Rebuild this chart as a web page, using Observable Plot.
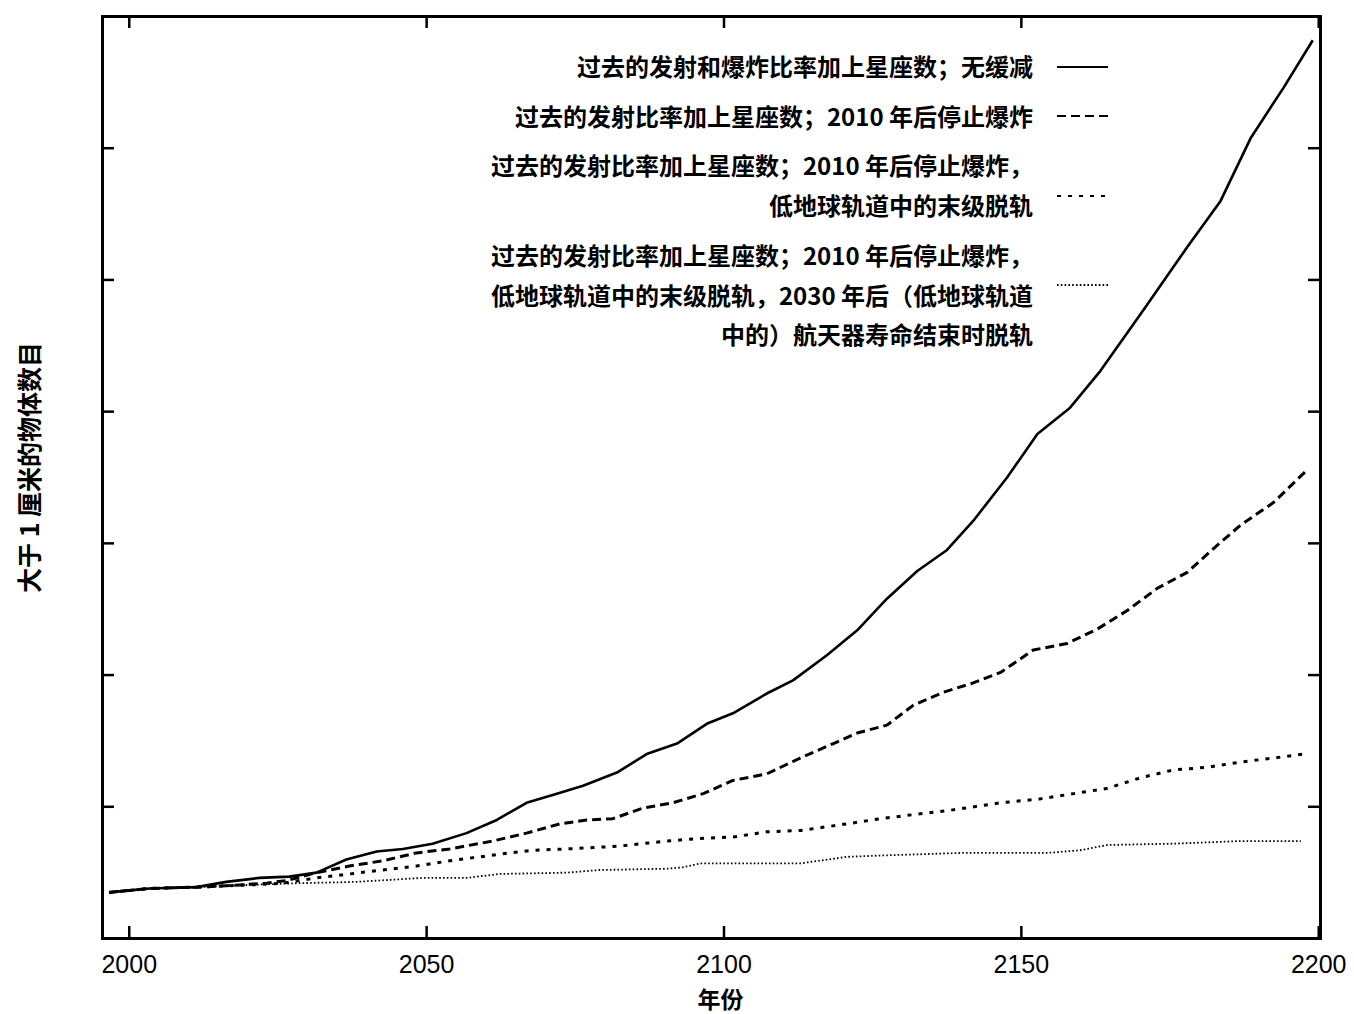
<!DOCTYPE html>
<html>
<head>
<meta charset="utf-8">
<script src="https://cdn.jsdelivr.net/npm/d3@7"></script>
<script src="https://cdn.jsdelivr.net/npm/@observablehq/plot@0.6"></script>
<style>
  body { margin: 0; background: #fff; }
  #wrap { position: relative; width: 1354px; height: 1014px; overflow: hidden; }
  .lg { position: absolute; white-space: pre; text-align: right; color: #000;
        font-family: "Noto Sans CJK SC", sans-serif; font-weight: 700; font-size: 24px; }
  .ls { position: absolute; }
</style>
</head>
<body>
<div id="wrap"></div>
<script>
// ---------------- data ----------------
const seriesNames = [
  "过去的发射和爆炸比率加上星座数；无缓减",
  "过去的发射比率加上星座数；2010 年后停止爆炸",
  "过去的发射比率加上星座数；2010 年后停止爆炸，低地球轨道中的末级脱轨",
  "过去的发射比率加上星座数；2010 年后停止爆炸，低地球轨道中的末级脱轨，2030 年后（低地球轨道中的）航天器寿命结束时脱轨"
];
const legendLines = [
  ["过去的发射和爆炸比率加上星座数；无缓减"],
  ["过去的发射比率加上星座数；2010 年后停止爆炸"],
  ["过去的发射比率加上星座数；2010 年后停止爆炸，", "低地球轨道中的末级脱轨"],
  ["过去的发射比率加上星座数；2010 年后停止爆炸，", "低地球轨道中的末级脱轨，2030 年后（低地球轨道", "中的）航天器寿命结束时脱轨"]
];

const years1 = [1996.6, 2003.4, 2011.3, 2016.3, 2021.9, 2026.9, 2031.5, 2036.5, 2041.6, 2046, 2051, 2056.7, 2061.8, 2066.8, 2071.2, 2076.3, 2082, 2087, 2092.1, 2097.1, 2101.5, 2107.2, 2111.6, 2117.3, 2122.4, 2127.4, 2132.5, 2137.5, 2141.9, 2147.6, 2152.7, 2158.2, 2163.3, 2170.5, 2177.9, 2183.5, 2188.6, 2194.1, 2199];
const values1 = [0.35, 0.38, 0.39, 0.43, 0.46, 0.47, 0.50, 0.60, 0.66, 0.68, 0.72, 0.80, 0.90, 1.03, 1.09, 1.16, 1.26, 1.40, 1.48, 1.63, 1.71, 1.86, 1.96, 2.15, 2.34, 2.58, 2.79, 2.95, 3.17, 3.50, 3.83, 4.03, 4.31, 4.77, 5.25, 5.60, 6.08, 6.46, 6.82];

const years2 = [1996.6, 2003.4, 2011.3, 2016.3, 2023.1, 2026.4, 2031.5, 2037.0, 2042.6, 2048.3, 2053.9, 2061.1, 2066.8, 2072.4, 2076.9, 2081.3, 2086.4, 2091.4, 2096.5, 2101.5, 2107.2, 2112.8, 2118.4, 2122.4, 2127.4, 2131.8, 2136.9, 2141.9, 2146.5, 2152.0, 2157.7, 2162.8, 2167.8, 2172.9, 2177.9, 2182.3, 2186.9, 2192.4, 2198.1];
const values2 = [0.35, 0.38, 0.39, 0.40, 0.42, 0.44, 0.50, 0.55, 0.59, 0.65, 0.68, 0.74, 0.80, 0.87, 0.90, 0.91, 0.99, 1.03, 1.10, 1.20, 1.25, 1.37, 1.48, 1.56, 1.62, 1.77, 1.87, 1.94, 2.02, 2.19, 2.24, 2.35, 2.49, 2.66, 2.78, 2.96, 3.14, 3.31, 3.56];

const years3 = [1996.6, 2003.4, 2011.3, 2016.3, 2021.9, 2025.8, 2031.5, 2037.0, 2042.6, 2048.3, 2053.9, 2062.3, 2067.8, 2073.6, 2082.0, 2090.4, 2096.0, 2101.5, 2107.2, 2112.8, 2120.7, 2126.3, 2131.8, 2137.5, 2146.5, 2153.2, 2158.8, 2164.5, 2170.0, 2175.6, 2181.3, 2186.9, 2192.4, 2197.3];
const values3 = [0.35, 0.38, 0.39, 0.40, 0.41, 0.42, 0.46, 0.49, 0.52, 0.55, 0.59, 0.64, 0.67, 0.68, 0.70, 0.74, 0.76, 0.77, 0.81, 0.82, 0.87, 0.91, 0.94, 0.97, 1.03, 1.06, 1.10, 1.14, 1.22, 1.28, 1.30, 1.34, 1.37, 1.40];

const years4 = [1996.6, 2003.4, 2011.3, 2016.3, 2021.9, 2028.6, 2038.2, 2049.3, 2056.7, 2062.3, 2073.6, 2079.1, 2090.4, 2093.1, 2096.0, 2101.5, 2112.8, 2120.7, 2126.3, 2140.2, 2154.4, 2159.9, 2164.5, 2175.6, 2186.9, 2197.0];
const values4 = [0.35, 0.38, 0.39, 0.40, 0.41, 0.42, 0.43, 0.46, 0.46, 0.49, 0.50, 0.52, 0.53, 0.54, 0.57, 0.57, 0.57, 0.62, 0.63, 0.65, 0.65, 0.67, 0.71, 0.72, 0.74, 0.74];

const xTicks = [2000, 2050, 2100, 2150, 2200];
const yTicks = [1, 2, 3, 4, 5, 6];
const xTitle = "年份";
const yTitle = "大于 1 厘米的物体数目";

// ---------------- layout / styles ----------------
const W = 1354, H = 1014;
const mL = 102, mR = 34, mT = 16, mB = 76;
const xDomain = [1995.5, 2200.3];
const yDomain = [0, 7];
const tickPx = 12;
const xPerPx = (xDomain[1] - xDomain[0]) / (W - mL - mR);
const yPerPx = (yDomain[1] - yDomain[0]) / (H - mT - mB);

const styles = [
  {strokeWidth: 2.6, strokeDasharray: null},
  {strokeWidth: 3, strokeDasharray: "9,5"},
  {strokeWidth: 3, strokeDasharray: "4,7"},
  {strokeWidth: 1.8, strokeDasharray: "1.6,2.2"}
];

const yearsAll = [years1, years2, years3, years4];
const valuesAll = [values1, values2, values3, values4];
const table = [];
yearsAll.forEach((ys, i) => ys.forEach((yr, j) => table.push({series: seriesNames[i], idx: i, year: yr, value: valuesAll[i][j]})));

const lineMarks = styles.map((s, i) => Plot.line(table.filter(d => d.idx === i), {
  x: "year", y: "value", stroke: "black",
  strokeWidth: s.strokeWidth, strokeDasharray: s.strokeDasharray,
  strokeLinecap: "butt", strokeLinejoin: "round"
}));

const chart = Plot.plot({
  width: W, height: H,
  marginLeft: mL, marginRight: mR, marginTop: mT, marginBottom: mB,
  style: {fontFamily: "'Liberation Sans', Arial, sans-serif", fontSize: "25px", color: "black", background: "white"},
  x: {domain: xDomain, ticks: xTicks, tickSize: 0, tickPadding: 17, tickFormat: d => String(d), label: null},
  y: {domain: yDomain, axis: null},
  marks: [
    ...lineMarks,
    // inward ticks on all four sides
    Plot.ruleX(xTicks, {x: d => d, y1: yDomain[0], y2: yDomain[0] + tickPx * yPerPx, stroke: "black", strokeWidth: 2.5}),
    Plot.ruleX(xTicks, {x: d => d, y1: yDomain[1], y2: yDomain[1] - tickPx * yPerPx, stroke: "black", strokeWidth: 2.5}),
    Plot.ruleY(yTicks, {y: d => d, x1: xDomain[0], x2: xDomain[0] + tickPx * xPerPx, stroke: "black", strokeWidth: 2.5}),
    Plot.ruleY(yTicks, {y: d => d, x1: xDomain[1], x2: xDomain[1] - tickPx * xPerPx, stroke: "black", strokeWidth: 2.5}),
    Plot.frame({stroke: "black", strokeWidth: 3}),
    Plot.text([xTitle], {text: d => d, frameAnchor: "bottom", textAnchor: "middle", dx: 9, dy: 69,
      fontFamily: "'Noto Sans CJK SC', sans-serif", fontWeight: 700, fontSize: 23, fill: "black"}),
    Plot.text([yTitle], {text: d => d, frameAnchor: "left", textAnchor: "middle", rotate: -90, dx: -72, dy: -10,
      fontFamily: "'Noto Sans CJK SC', sans-serif", fontWeight: 700, fontSize: 25, fill: "black"})
  ]
});

const wrap = document.getElementById("wrap");
wrap.appendChild(chart);

// ---------------- legend (HTML overlay) ----------------
const legendRight = 1033;           // right edge of legend text
const entryFirstCenters = [66, 116, 165, 255];
const lineGap = 39.5;
const sampleCenters = [67, 116, 196, 285];
const sampleX0 = 1057, sampleX1 = 1108;
const lh = 34;

legendLines.forEach((lines, i) => {
  lines.forEach((t, k) => {
    const div = document.createElement("div");
    div.className = "lg";
    div.textContent = t;
    const cy = entryFirstCenters[i] + k * lineGap;
    div.style.right = (W - legendRight) + "px";
    div.style.top = (cy - lh / 2) + "px";
    div.style.lineHeight = lh + "px";
    wrap.appendChild(div);
  });
  const ns = "http://www.w3.org/2000/svg";
  const svg = document.createElementNS(ns, "svg");
  svg.setAttribute("class", "ls");
  svg.setAttribute("width", sampleX1 - sampleX0);
  svg.setAttribute("height", 10);
  svg.style.left = sampleX0 + "px";
  svg.style.top = (sampleCenters[i] - 5) + "px";
  const ln = document.createElementNS(ns, "line");
  ln.setAttribute("x1", 0); ln.setAttribute("x2", sampleX1 - sampleX0);
  ln.setAttribute("y1", 5); ln.setAttribute("y2", 5);
  ln.setAttribute("stroke", "black");
  ln.setAttribute("stroke-width", Math.min(styles[i].strokeWidth, 2.2));
  if (styles[i].strokeDasharray) ln.setAttribute("stroke-dasharray", styles[i].strokeDasharray);
  svg.appendChild(ln);
  wrap.appendChild(svg);
});
</script>
</body>
</html>
